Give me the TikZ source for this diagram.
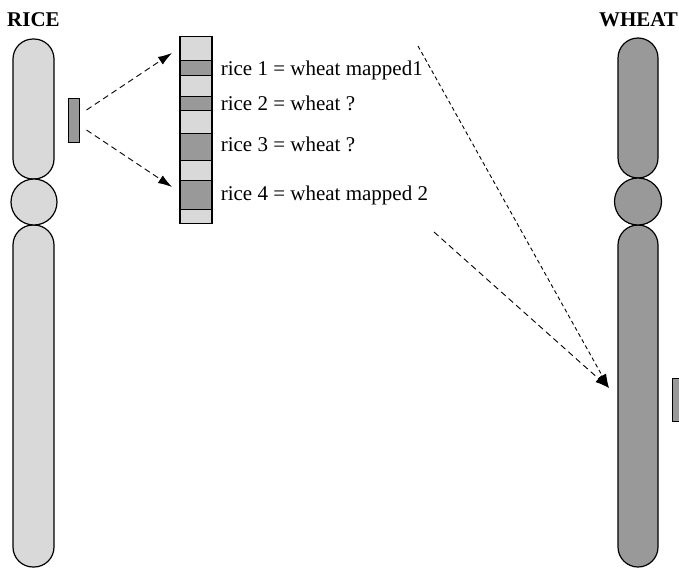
\documentclass[tikz,border=0pt]{standalone}
\usepackage{fontspec}
\setmainfont{Liberation Serif}
\usetikzlibrary{arrows.meta, positioning}

\definecolor{ricegrey}{HTML}{D9D9D9}
\definecolor{wheatgrey}{HTML}{999999}

\begin{document}
\begin{tikzpicture}[x=1pt, y=-1pt, >={Latex[length=14pt, width=9pt]}, font=\fontsize{21}{25}\selectfont,
	arm/.style={draw, line width=1.2pt, rounded corners=20pt, minimum width=41pt, inner sep=0pt},
	cent/.style={draw, circle, line width=1.2pt, inner sep=0pt},
	band/.style={draw, line width=1.2pt, minimum width=32pt, inner sep=0pt},
	marker/.style={draw, line width=1pt, inner sep=0pt},
	link/.style={->, line width=0.9pt, dash pattern=on 6pt off 4pt}]
				\useasboundingbox (0,0) rectangle (679,568);
				
				\node[font=\fontsize{21}{25}\selectfont\bfseries] (ricetitle) at (33.5,20) {RICE};
				\node[font=\fontsize{21}{25}\selectfont\bfseries] (wheattitle) at (638.5,20) {WHEAT};
				
				\node[arm, fill=ricegrey, minimum height=140pt] (riceup) at (33.5,109) {};
				\node[arm, fill=ricegrey, minimum height=342pt] (ricelow) at (33.5,396) {};
				\node[cent, fill=ricegrey, minimum size=46pt] (ricecen) at (34,202) {};
				
				\node[arm, fill=wheatgrey, minimum width=40pt, minimum height=140pt] (wheatup) at (638,108) {};
				\node[arm, fill=wheatgrey, minimum width=40pt, minimum height=342pt] (wheatlow) at (638,396) {};
				\node[cent, fill=wheatgrey, minimum size=47pt] (wheatcen) at (638,201.5) {};
				
				\node[marker, fill=wheatgrey, minimum width=11pt, minimum height=44pt] (ricebox) at (73.5,120) {};
				\node[marker, fill=wheatgrey, minimum width=12pt, minimum height=43pt, anchor=north west] (wheatbox) at (672,378) {};
				
				\foreach \top/\bot/\col [count=\i] in {36/60/ricegrey, 60/75/wheatgrey, 75/96/ricegrey, 96/110/wheatgrey, 110/133/ricegrey, 133/160/wheatgrey, 160/180/ricegrey, 180/209/wheatgrey, 209/223/ricegrey}
					\node[band, fill=\col, minimum height={\bot-\top}, anchor=north] (seg\i) at (196,\top) {};
				
				\node[right=8pt of seg2, inner sep=0pt, yshift=-2pt] (lab1) {rice 1 = wheat mapped1};
				\node[right=8pt of seg4, inner sep=0pt] (lab2) {rice 2 = wheat ?};
				\node[right=8pt of seg6, inner sep=0pt, yshift=3pt] (lab3) {rice 3 = wheat ?};
				\node[right=8pt of seg8, inner sep=0pt] (lab4) {rice 4 = wheat mapped 2};
				
				\coordinate (pa) at (172,53);
				\coordinate (pb) at (172,187);
				\coordinate (m1) at (418,46);
				\coordinate (m2) at (434,232);
				\coordinate (wtip) at (609,388);
				
				\draw[link] ([shift={(7pt,10pt)}]ricebox.east) -- (pa);
				\draw[link] ([shift={(7pt,-10pt)}]ricebox.east) -- (pb);
				
				\draw[link, dash pattern=on 4pt off 3pt] (m1) -- (wtip);
				\draw[link] (m2) -- (wtip);
			\end{tikzpicture}
\end{document}
